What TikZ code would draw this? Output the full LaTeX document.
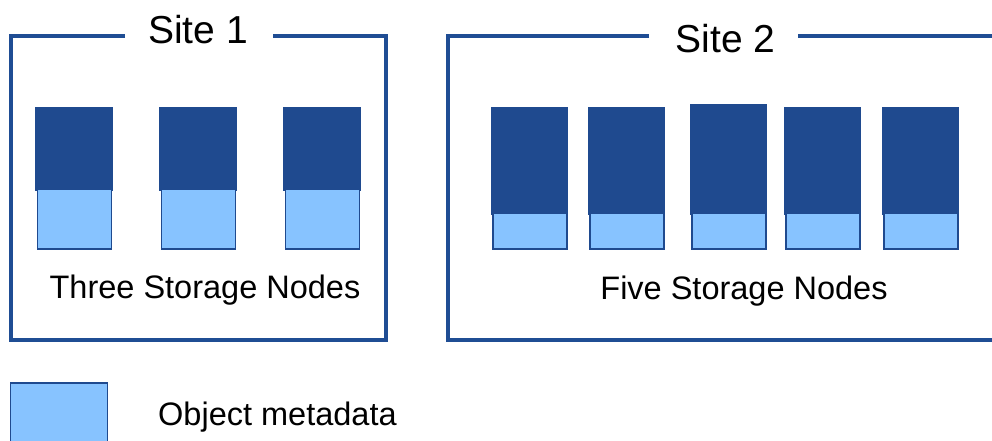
\documentclass[tikz,border=0pt]{standalone}
\usepackage{fontspec}
\setmainfont{Liberation Sans}
\definecolor{frameblue}{RGB}{31,77,148}
\definecolor{darkblue}{RGB}{31,74,143}
\definecolor{lightblue}{RGB}{135,195,255}
\tikzset{
  frameline/.style={draw=frameblue, line width=4.6pt},
  darkpart/.style={rectangle, fill=darkblue, draw=darkblue, line width=0.6pt, inner sep=0pt, anchor=north west},
  lightpart/.style={rectangle, fill=lightblue, draw=darkblue, line width=1.5pt, inner sep=0pt, anchor=north west},
  sitetitle/.style={font=\fontsize{39}{39}\selectfont, anchor=base, inner sep=0pt},
  caption/.style={font=\fontsize{32.5}{32.5}\selectfont, anchor=base, inner sep=0pt}
}
\begin{document}
\begin{tikzpicture}[x=1pt, y=-1pt]
\clip (0,0) rectangle (992,440);
\fill[white] (0,0) rectangle (992,440);

% Site 1 frame
\coordinate (s1a) at (125,36);
\coordinate (s1b) at (11,36);
\coordinate (s1c) at (11,340);
\coordinate (s1d) at (386,340);
\coordinate (s1e) at (386,36);
\coordinate (s1f) at (273,36);
\draw[frameline, line join=miter] (s1a) -- (s1b) -- (s1c) -- (s1d) -- (s1e) -- (s1f);
\node[sitetitle] (t1) at (198,43) {Site 1};

% Site 2 frame
\coordinate (s2a) at (649,36);
\coordinate (s2b) at (448,36);
\coordinate (s2c) at (448,340);
\coordinate (s2d) at (1000,340);
\coordinate (s2e) at (798,36);
\coordinate (s2f) at (1000,36);
\draw[frameline, line join=miter] (s2a) -- (s2b) -- (s2c) -- (s2d);
\draw[frameline] (s2e) -- (s2f);
\node[sitetitle] (t2) at (725.5,52) {Site 2};

% Site 1 storage nodes
\foreach \i/\x in {1/35,2/159,3/283}{
  \node[darkpart, minimum width=77pt, minimum height=83pt] (a\i d) at (\x,107) {};
  \node[lightpart, minimum width=74pt, minimum height=60pt] (a\i l) at (\x+1.5,188) {};
}
\node[caption] (c1) at (205,298) {Three Storage Nodes};

% Site 2 storage nodes
\foreach \i/\x/\t in {1/491/107,2/588/107,3/690/104,4/784/107,5/882/107}{
  \node[darkpart, minimum width=76pt, minimum height=214-\t] (b\i d) at (\x,\t) {};
  \node[lightpart, minimum width=74pt, minimum height=36pt] (b\i l) at (\x+1,212) {};
}
\node[caption] (c2) at (744,299) {Five Storage Nodes};

% Legend
\node[lightpart, minimum width=97pt, minimum height=70pt] (leg) at (9.5,382) {};
\node[caption, anchor=base west] (legt) at (158,425) {Object metadata};
\end{tikzpicture}
\end{document}
